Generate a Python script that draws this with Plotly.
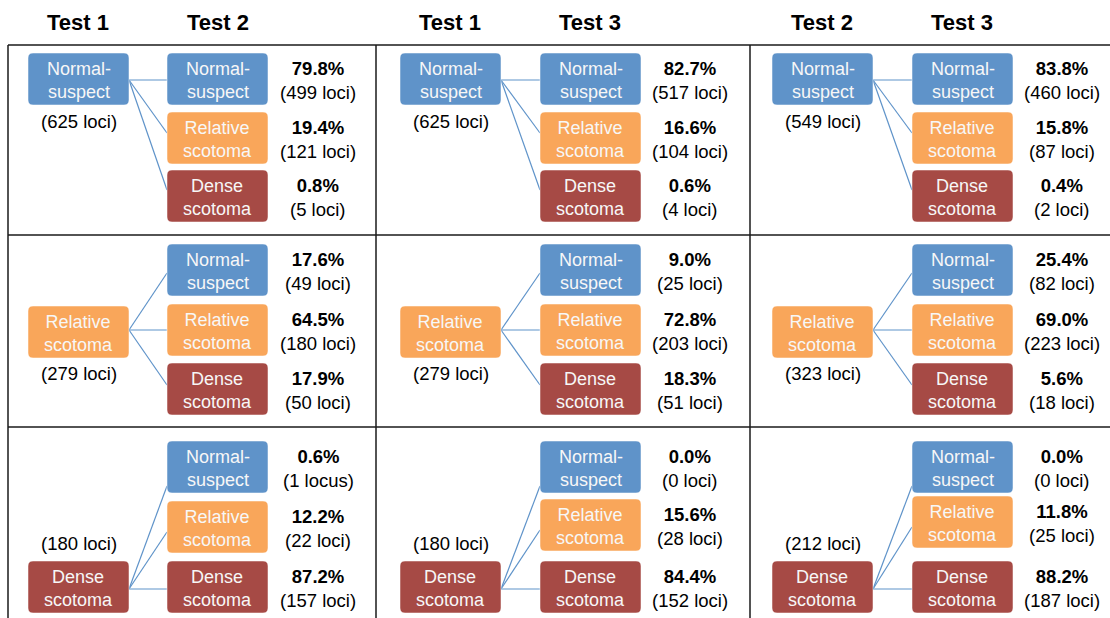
import plotly.graph_objects as go

# ---------------- data ----------------
panel_tests = [("Test 1", "Test 2"), ("Test 1", "Test 3"), ("Test 2", "Test 3")]
categories = ["Normal-<br>suspect", "Relative<br>scotoma", "Dense<br>scotoma"]
category_colors = ["#5f93c9", "#f9a65a", "#a64a45"]

baseline_loci = [
    [625, 279, 180],
    [625, 279, 180],
    [549, 323, 212],
]
pct_p1 = [[79.8, 19.4, 0.8], [17.6, 64.5, 17.9], [0.6, 12.2, 87.2]]
loci_p1 = [[499, 121, 5], [49, 180, 50], [1, 22, 157]]
pct_p2 = [[82.7, 16.6, 0.6], [9.0, 72.8, 18.3], [0.0, 15.6, 84.4]]
loci_p2 = [[517, 104, 4], [25, 203, 51], [0, 28, 152]]
pct_p3 = [[83.8, 15.8, 0.4], [25.4, 69.0, 5.6], [0.0, 11.8, 88.2]]
loci_p3 = [[460, 87, 2], [82, 223, 18], [0, 25, 187]]
pct_all = [pct_p1, pct_p2, pct_p3]
loci_all = [loci_p1, loci_p2, loci_p3]

# ---------------- layout geometry ----------------
W, H = 1110, 618
FONT = "Liberation Sans, Arial, sans-serif"
panel_dx = [0, 372, 744]
left_x0, right_x0, box_w, box_h = 28, 167, 101, 52
pct_cx = 318
header_y = 22
header_x = (78, 218)

rows = [
    dict(left_y0=53, right_y0=[53, 112, 170], src_y=80, tgt_y=[80, 133, 190], lab_y=121),
    dict(left_y0=306, right_y0=[244, 304, 363], src_y=330, tgt_y=[273, 330, 385], lab_y=373),
    dict(left_y0=561, right_y0=[441, 501, 561], src_y=589, tgt_y=[486, 532, 589], lab_y=543),
]
# small per-panel vertical nudge of the middle box in the last row
row3_mid_shift = [0, -2, -5]


def rrect(x0, y0, w, h, r=5):
    x1, y1 = x0 + w, y0 + h
    return (f"M {x0+r},{y0} L {x1-r},{y0} Q {x1},{y0} {x1},{y0+r} "
            f"L {x1},{y1-r} Q {x1},{y1} {x1-r},{y1} L {x0+r},{y1} "
            f"Q {x0},{y1} {x0},{y1-r} L {x0},{y0+r} Q {x0},{y0} {x0+r},{y0} Z")


shapes, annos = [], []

# table grid
grid = dict(color="#1a1a1a", width=1.5)
for y in (45, 235, 427):
    shapes.append(dict(type="line", x0=8, x1=W, y0=y, y1=y, line=grid, layer="below"))
for x in (8, 376, 750):
    shapes.append(dict(type="line", x0=x, x1=x, y0=45, y1=H, line=grid, layer="below"))

for p in range(3):
    dx = panel_dx[p]
    for k in range(2):
        annos.append(dict(x=header_x[k] + dx, y=header_y, text=f"<b>{panel_tests[p][k]}</b>",
                          font=dict(family=FONT, size=22, color="black")))
    for r, g in enumerate(rows):
        lx0 = left_x0 + dx
        rx0 = right_x0 + dx + (1 if p > 0 else 0)
        ys = list(g["right_y0"])
        if r == 2:
            ys[1] += row3_mid_shift[p]
        # connectors
        for j in range(3):
            ty = g["tgt_y"][j] + (ys[j] - g["right_y0"][j])
            shapes.append(dict(type="line", x0=lx0 + box_w, y0=g["src_y"], x1=rx0, y1=ty,
                               line=dict(color="#5f93c9", width=1.2)))
        # left box
        shapes.append(dict(type="path", path=rrect(lx0, g["left_y0"], box_w, box_h),
                           fillcolor=category_colors[r], line=dict(color="rgba(255,255,255,0.5)", width=1)))
        annos.append(dict(x=lx0 + box_w / 2, y=g["left_y0"] + box_h / 2 + 1, text=categories[r],
                          font=dict(family=FONT, size=18, color="#f7f7f7")))
        annos.append(dict(x=lx0 + box_w / 2, y=g["lab_y"], text=f"({baseline_loci[p][r]} loci)",
                          font=dict(family=FONT, size=18.5, color="black")))
        # right boxes
        for j in range(3):
            y0 = ys[j]
            shapes.append(dict(type="path", path=rrect(rx0, y0, box_w, box_h),
                               fillcolor=category_colors[j], line=dict(color="rgba(255,255,255,0.5)", width=1)))
            annos.append(dict(x=rx0 + box_w / 2, y=y0 + box_h / 2 + 1, text=categories[j],
                              font=dict(family=FONT, size=18, color="#f7f7f7")))
            n = loci_all[p][r][j]
            unit = "locus" if n == 1 else "loci"
            annos.append(dict(x=pct_cx + dx, y=y0 + box_h / 2 + 1,
                              text=f"<b>{pct_all[p][r][j]:.1f}%</b><br>({n} {unit})",
                              font=dict(family=FONT, size=18.5, color="black")))

for a in annos:
    a.update(xref="x", yref="y", showarrow=False, xanchor="center", yanchor="middle")

fig = go.Figure()
fig.update_layout(
    width=W, height=H, margin=dict(l=0, r=0, t=0, b=0),
    paper_bgcolor="white", plot_bgcolor="white",
    xaxis=dict(range=[0, W], visible=False, fixedrange=True),
    yaxis=dict(range=[H, 0], visible=False, fixedrange=True),
    shapes=shapes, annotations=annos, showlegend=False,
)
fig.write_html("out.html", config={"displayModeBar": False},
               post_script="document.body.style.margin='0';document.body.style.overflow='hidden';")
